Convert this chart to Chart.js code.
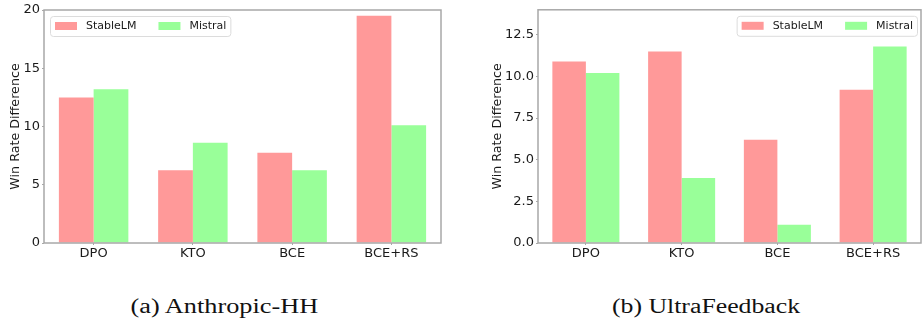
<!DOCTYPE html>
<html>
<head>
<meta charset="utf-8">
<script src="https://cdn.jsdelivr.net/npm/chart.js@4.4.1/dist/chart.umd.min.js"></script>
<style>
body { margin: 0; background: #fff; width: 923px; height: 322px; position: relative; overflow: hidden; }
.panel { position: absolute; top: 0; }
.caption { position: absolute; top: 296px; line-height: 20px; white-space: nowrap;
           font-family: 'Liberation Serif', serif; font-size: 20px; color: #111;
           transform-origin: center top; }
</style>
</head>
<body>
<div class="panel" style="left:0"><canvas id="chartHH" width="460" height="265"></canvas></div>
<div class="panel" style="left:460px"><canvas id="chartUF" width="463" height="265"></canvas></div>
<div class="caption" id="capHH" data-center="224">(a) Anthropic-HH</div>
<div class="caption" id="capUF" data-center="706">(b) UltraFeedback</div>
<script>
// data
var methods = ['DPO', 'KTO', 'BCE', 'BCE+RS'];
var seriesNames = ['StableLM', 'Mistral'];
var seriesColors = ['#ff9999', '#99ff99'];

var hhStableLM = [12.5, 6.25, 7.75, 19.5];
var hhMistral = [13.2, 8.6, 6.25, 10.1];
var hhTicks = [0, 5, 10, 15, 20];

var ufStableLM = [10.9, 11.5, 6.2, 9.2];
var ufMistral = [10.2, 3.9, 1.1, 11.8];
var ufTicks = [0, 2.5, 5, 7.5, 10, 12.5];

var axisGrey = '#a8a8a8';
var textColor = '#1a1a1a';
var fontFamily = '"DejaVu Sans", sans-serif';

// matplotlib-like legend box inside the plot area
var boxLegend = {
    id: 'boxLegend',
    afterDraw: function (chart, args, opts) {
        var ctx = chart.ctx;
        var area = chart.chartArea;
        var sets = chart.data.datasets;
        ctx.save();
        ctx.font = '11px ' + fontFamily;
        var w = 5;
        for (var i = 0; i < sets.length; i++) {
            w += 22 + 9 + ctx.measureText(sets[i].label).width;
            if (i < sets.length - 1) w += 22;
        }
        w += 4;
        var h = 20;
        var x = opts.align === 'right' ? area.right - 4 - w : area.left + 6;
        var y = area.top + 6;
        ctx.beginPath();
        if (ctx.roundRect) ctx.roundRect(x + 0.5, y + 0.5, w, h, 3);
        else ctx.rect(x + 0.5, y + 0.5, w, h);
        ctx.fillStyle = 'rgba(255,255,255,0.8)';
        ctx.fill();
        ctx.strokeStyle = '#dcdcdc';
        ctx.lineWidth = 1;
        ctx.stroke();
        var cx = x + 5;
        ctx.textBaseline = 'middle';
        for (var j = 0; j < sets.length; j++) {
            ctx.fillStyle = sets[j].backgroundColor;
            ctx.fillRect(cx, y + 6, 22, 8);
            cx += 31;
            ctx.fillStyle = textColor;
            ctx.fillText(sets[j].label, cx, y + 10.5);
            cx += ctx.measureText(sets[j].label).width + 22;
        }
        ctx.restore();
    }
};

// grey frame round the axes
var frame = {
    id: 'frame',
    afterDatasetsDraw: function (chart) {
        var ctx = chart.ctx;
        var a = chart.chartArea;
        ctx.save();
        ctx.strokeStyle = axisGrey;
        ctx.lineWidth = 1.5;
        ctx.strokeRect(a.left, a.top, a.right - a.left, a.bottom - a.top);
        ctx.restore();
    }
};

function makeChart(id, stable, mistral, ticks, yMax, opt) {
    return new Chart(document.getElementById(id).getContext('2d'), {
        type: 'bar',
        data: {
            labels: methods,
            datasets: [
                { label: seriesNames[0], data: stable, backgroundColor: seriesColors[0] },
                { label: seriesNames[1], data: mistral, backgroundColor: seriesColors[1] }
            ]
        },
        options: {
            responsive: false,
            animation: false,
            layout: { padding: { left: 0, right: opt.right, top: opt.top, bottom: 0 } },
            datasets: { bar: { categoryPercentage: 0.7, barPercentage: 1.0 } },
            plugins: {
                legend: { display: false },
                tooltip: { enabled: false },
                boxLegend: { align: opt.legendAlign }
            },
            scales: {
                x: {
                    grid: { display: true, offset: false, drawOnChartArea: false, drawTicks: true,
                            tickLength: 2, color: axisGrey },
                    border: { display: false },
                    ticks: { color: textColor, padding: 1, font: { family: fontFamily, size: 13 } },
                    afterFit: function (s) { s.height = 22; }
                },
                y: {
                    min: 0,
                    max: yMax,
                    afterBuildTicks: function (s) {
                        s.ticks = ticks.map(function (v) { return { value: v }; });
                    },
                    grid: { display: true, drawOnChartArea: false, drawTicks: true,
                            tickLength: 2, color: axisGrey },
                    border: { display: false },
                    ticks: {
                        color: textColor, padding: 2,
                        font: { family: fontFamily, size: 13 },
                        callback: function (v) { return opt.decimals ? v.toFixed(1) : String(v); }
                    },
                    title: {
                        display: true, text: 'Win Rate Difference', color: textColor,
                        font: { family: fontFamily, size: 12.7 },
                        padding: { top: opt.titlePad, bottom: 0 }
                    },
                    afterFit: function (s) { s.width = opt.axisWidth; }
                }
            }
        },
        plugins: [frame, boxLegend]
    });
}

makeChart('chartHH', hhStableLM, hhMistral, hhTicks, 20,
    { right: 19, top: 10, axisWidth: 44, titlePad: 8, legendAlign: 'left', decimals: false });
makeChart('chartUF', ufStableLM, ufMistral, ufTicks, 14,
    { right: 2, top: 6, axisWidth: 78, titlePad: 30, legendAlign: 'right', decimals: true });

// captions: Palatino-like width, stretched from the serif we have
['capHH', 'capUF'].forEach(function (id) {
    var el = document.getElementById(id);
    var w = el.offsetWidth;
    el.style.left = (+el.dataset.center - w / 2) + 'px';
    el.style.transform = 'scaleX(' + (188 / w) + ')';
});
</script>
</body>
</html>
